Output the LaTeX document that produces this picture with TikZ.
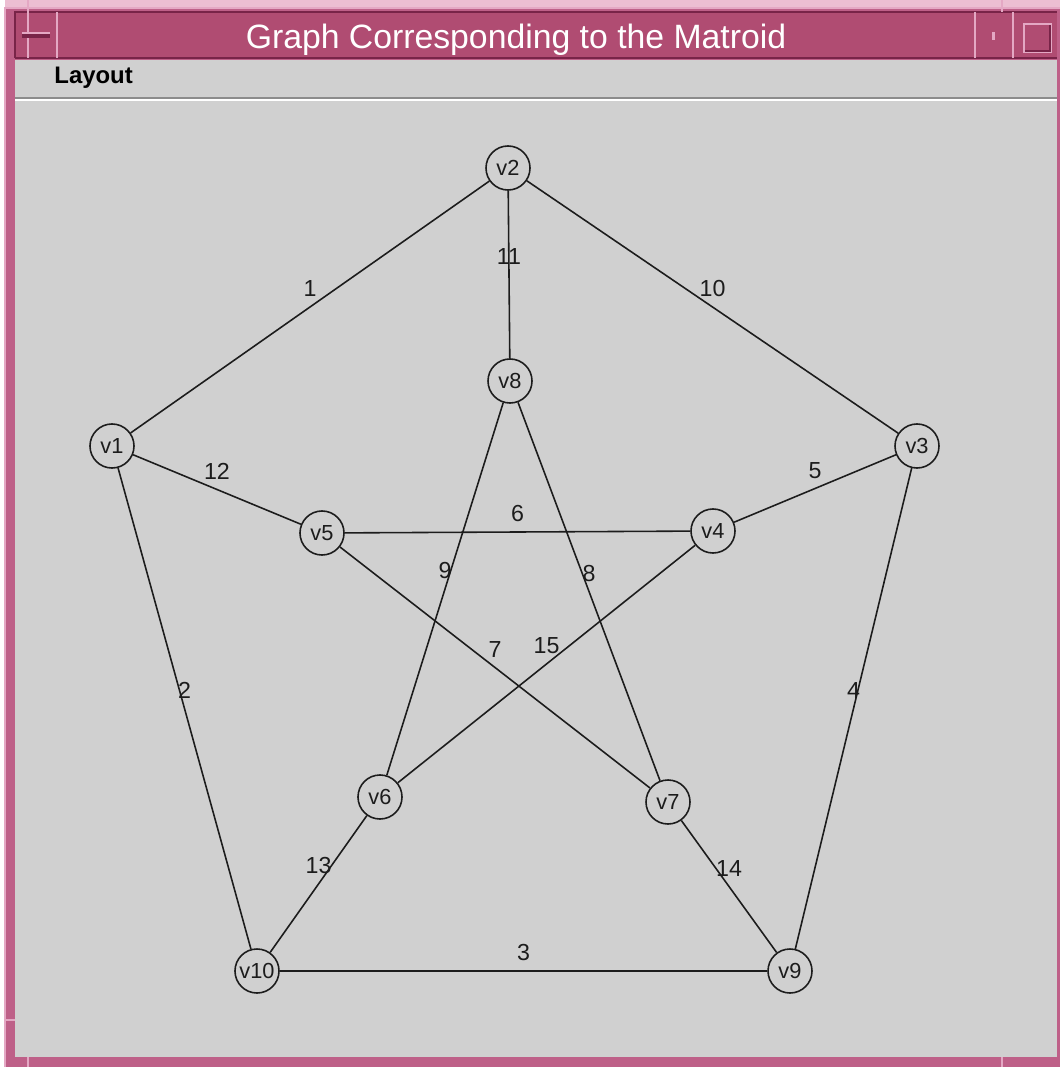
\documentclass[tikz,border=0pt]{standalone}
\usepackage{fontspec}
\setmainfont{Liberation Sans}
\definecolor{framepink}{RGB}{190,96,136}
\definecolor{titlepink}{RGB}{176,76,114}
\definecolor{lightpink}{RGB}{228,168,196}
\definecolor{palepink}{RGB}{236,190,210}
\definecolor{darkpink}{RGB}{120,36,72}
\definecolor{panelgray}{RGB}{208,208,208}
\definecolor{rulegray}{RGB}{140,140,140}
\definecolor{inkgray}{RGB}{28,28,28}

\begin{document}
\begin{tikzpicture}[x=0.01cm,y=-0.01cm,
  vtx/.style={circle,draw=inkgray,line width=0.45pt,minimum size=0.44cm,inner sep=0pt,
    font=\fontsize{6.2}{7}\selectfont,text=inkgray},
  wt/.style={midway,yshift=1.8mm,font=\fontsize{6.6}{8}\selectfont,text=inkgray},
  link/.style={draw=inkgray,line width=0.45pt}]
  \useasboundingbox (0,0) rectangle (1060,1067);
  \fill[white] (0,0) rectangle (1060,1067);
  \fill[palepink] (5,0) rectangle (1060,8);
  \fill[framepink] (5,8) rectangle (1060,1067);
  \draw[lightpink,line width=0.6pt] (5,1067) -- (5,8) -- (1060,8);
  \fill[titlepink] (15,12) rectangle (1057,58);
  \draw[darkpink,line width=0.5pt] (15,58) -- (15,12) -- (1057,12);
  \draw[darkpink,line width=0.4pt] (15,58) -- (1057,58);
  \fill[panelgray] (15,60) rectangle (1057,1057);
  \draw[rulegray,line width=0.6pt] (15,98) -- (1057,98);
  \draw[white,line width=0.4pt] (15,100) -- (1057,100);
  \draw[lightpink,line width=0.4pt] (57,12) -- (57,58) (975,12) -- (975,58) (1013,12) -- (1013,58);
  \draw[lightpink,line width=0.3pt] (28,0) -- (28,58) (1002,0) -- (1002,12)
    (5,1020) -- (15,1020) (28,1057) -- (28,1067) (1002,1057) -- (1002,1067);
  \fill[darkpink] (22,34) rectangle (50,38);
  \draw[lightpink,line width=0.4pt] (22,33) -- (50,33);
  \fill[lightpink] (992,32) rectangle (995,40);
  \draw[lightpink,line width=0.7pt] (1024,24) rectangle (1051,52);
  \draw[darkpink,line width=0.5pt] (1025,51) -- (1050,51) -- (1050,25);

  \node[text=white,font=\fontsize{9.6}{11}\selectfont] (title) at (516,40) {Graph Corresponding to the Matroid};
  \node[anchor=west,text=black,font=\bfseries\fontsize{6.8}{8}\selectfont] (menu) at (42,78) {Layout};

  \node[vtx] (v1) at (112,446) {v1};
  \node[vtx] (v2) at (508,168) {v2};
  \node[vtx] (v3) at (917,446) {v3};
  \node[vtx] (v4) at (713,531) {v4};
  \node[vtx] (v5) at (322,533) {v5};
  \node[vtx] (v6) at (380,797) {v6};
  \node[vtx] (v7) at (668,802) {v7};
  \node[vtx] (v8) at (510,381) {v8};
  \node[vtx] (v9) at (790,971) {v9};
  \node[vtx] (v10) at (257,971) {v10};

  \draw[link] (v1) -- node[wt] {1} (v2);
  \draw[link] (v1) -- node[wt] {2} (v10);
  \draw[link] (v10) -- node[wt] {3} (v9);
  \draw[link] (v3) -- node[wt] {4} (v9);
  \draw[link] (v3) -- node[wt] {5} (v4);
  \draw[link] (v5) -- node[wt] {6} (v4);
  \draw[link] (v5) -- node[wt] {7} (v7);
  \draw[link] (v8) -- node[wt] {8} (v7);
  \draw[link] (v8) -- node[wt] {9} (v6);
  \draw[link] (v2) -- node[wt] {10} (v3);
  \draw[link] (v2) -- node[wt] {11} (v8);
  \draw[link] (v1) -- node[wt] {12} (v5);
  \draw[link] (v6) -- node[wt] {13} (v10);
  \draw[link] (v7) -- node[wt] {14} (v9);
  \draw[link] (v4) -- node[wt] {15} (v6);
\end{tikzpicture}
\end{document}
